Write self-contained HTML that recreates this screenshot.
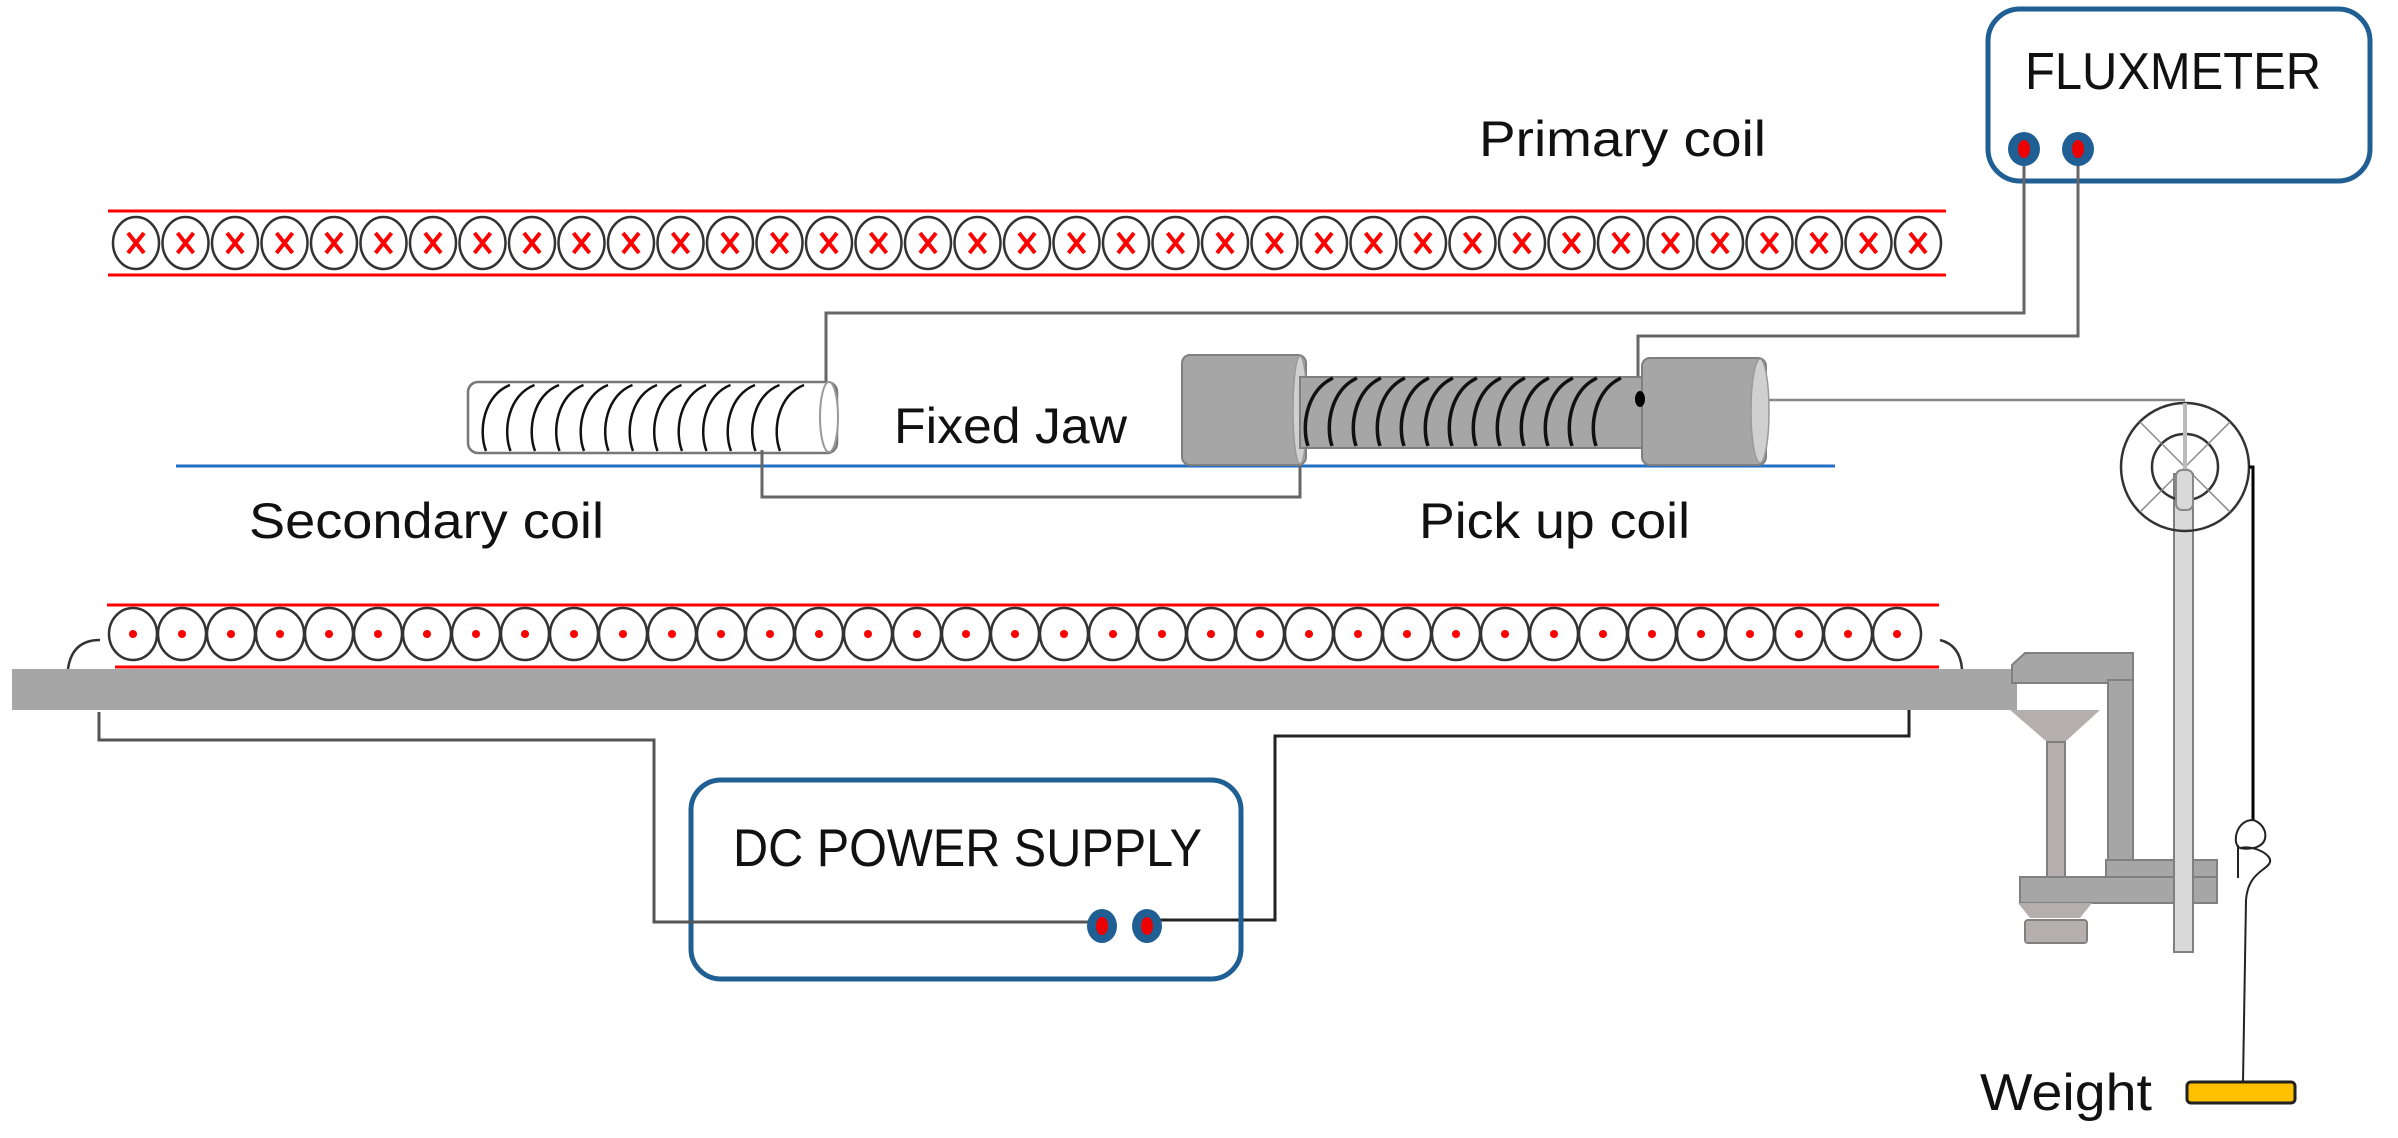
<!DOCTYPE html>
<html><head><meta charset="utf-8"><style>
html,body{margin:0;padding:0;background:#fff;}
svg{display:block;}
text{font-family:"Liberation Sans",sans-serif;fill:#111;}
</style></head><body>
<svg width="2398" height="1138" viewBox="0 0 2398 1138" xmlns="http://www.w3.org/2000/svg">
<!-- Fluxmeter -->
<rect x="1988" y="9" width="382" height="172" rx="32" fill="#fff" stroke="#1f5f93" stroke-width="5"/>
<text x="2025" y="89" font-size="52" textLength="296" lengthAdjust="spacingAndGlyphs">FLUXMETER</text>
<!-- wires fluxmeter -->
<polyline points="2024,150 2024,313 826,313 826,384" fill="none" stroke="#666" stroke-width="3"/>
<polyline points="2078,150 2078,336 1638,336 1638,378" fill="none" stroke="#666" stroke-width="3"/>
<ellipse cx="2024" cy="149" rx="16" ry="17" fill="#1f5f93"/><ellipse cx="2024" cy="149" rx="6" ry="9" fill="#e00"/>
<ellipse cx="2078" cy="149" rx="16" ry="17" fill="#1f5f93"/><ellipse cx="2078" cy="149" rx="6" ry="9" fill="#e00"/>

<text x="1479" y="156" font-size="50" textLength="287" lengthAdjust="spacingAndGlyphs">Primary coil</text>

<!-- top coil -->
<line x1="108" y1="211" x2="1946" y2="211" stroke="#f00" stroke-width="3"/>
<line x1="108" y1="275" x2="1946" y2="275" stroke="#f00" stroke-width="3"/>
<g id="topc" stroke-width="3"></g>

<!-- bottom coil -->
<line x1="107" y1="605" x2="1939" y2="605" stroke="#f00" stroke-width="3"/>
<line x1="115" y1="667" x2="1939" y2="667" stroke="#f00" stroke-width="3"/>
<g id="botc"></g>
<path d="M68 669 Q72 640 100 640" fill="none" stroke="#333" stroke-width="2.5"/>
<path d="M1940 640 Q1960 645 1962 669" fill="none" stroke="#333" stroke-width="2.5"/>

<!-- bar -->
<rect x="12" y="669" width="2005" height="41" fill="#a6a6a6"/>
<!-- clamp -->
<polygon points="2012,683 2012,665 2025,653 2133,653 2133,683" fill="#a6a6a6" stroke="#808080" stroke-width="2"/>
<rect x="2108" y="680" width="25" height="182" fill="#a6a6a6" stroke="#808080" stroke-width="2"/>
<polygon points="2010,710 2100,710 2065,742 2047,742" fill="#b5aeae"/>
<rect x="2047" y="742" width="18" height="135" fill="#b5aeae" stroke="#808080" stroke-width="2"/>
<rect x="2106" y="860" width="111" height="17" fill="#a6a6a6" stroke="#808080" stroke-width="2"/>
<rect x="2020" y="877" width="197" height="26" fill="#a6a6a6" stroke="#808080" stroke-width="2"/>
<polygon points="2018,903 2092,903 2080,918 2030,918" fill="#b5aeae"/>
<rect x="2025" y="920" width="62" height="23" rx="3" fill="#b5aeae" stroke="#808080" stroke-width="2"/>
<!-- stand rod -->
<rect x="2174" y="474" width="19" height="478" fill="#d9d9d9" stroke="#808080" stroke-width="2"/>
<!-- pulley -->
<circle cx="2185" cy="467" r="64" fill="none" stroke="#333" stroke-width="2.5"/>
<circle cx="2185" cy="467" r="33" fill="none" stroke="#333" stroke-width="2.5"/>
<line x1="2140" y1="422" x2="2230" y2="512" stroke="#888" stroke-width="1.5"/>
<line x1="2230" y1="422" x2="2140" y2="512" stroke="#888" stroke-width="1.5"/>
<line x1="2185" y1="403" x2="2185" y2="470" stroke="#bbb" stroke-width="4"/>
<rect x="2176" y="470" width="17" height="40" rx="6" fill="#d9d9d9" stroke="#888" stroke-width="2"/>
<!-- string -->
<polyline points="1640,400 2185,400" fill="none" stroke="#888" stroke-width="2.5"/>
<path d="M2249 467 L2253 467 L2253 820" fill="none" stroke="#000" stroke-width="3"/>
<path d="M2253 820 C2235 820 2232 845 2240 848 C2250 850 2268 848 2265 832 C2262 822 2253 820 2253 820 M2238 845 L2238 878 M2240 848 C2255 845 2272 855 2270 862 C2268 870 2248 872 2246 900 L2243 1082" fill="none" stroke="#222" stroke-width="2"/>
<!-- weight -->
<rect x="2187" y="1082" width="108" height="21" rx="4" fill="#ffc000" stroke="#222" stroke-width="3"/>
<text x="1980" y="1110" font-size="52" textLength="172" lengthAdjust="spacingAndGlyphs">Weight</text>

<!-- blue line -->
<line x1="176" y1="466" x2="1835" y2="466" stroke="#1f6fc5" stroke-width="3"/>

<!-- secondary coil -->
<rect x="468" y="382" width="369" height="71" rx="10" fill="#fff" stroke="#777" stroke-width="2.5"/>
<ellipse cx="829" cy="417" rx="9" ry="35" fill="#fff" stroke="#999" stroke-width="2"/>
<g id="secw" fill="none" stroke="#111" stroke-width="2.5"></g>
<polyline points="762,450 762,497 1300,497 1300,448" fill="none" stroke="#666" stroke-width="3"/>

<!-- pick up coil -->
<rect x="1182" y="355" width="124" height="110" rx="8" fill="#a6a6a6" stroke="#7f7f7f" stroke-width="2"/>
<ellipse cx="1300" cy="410" rx="7" ry="54" fill="#d0d0d0" stroke="#999" stroke-width="1.5"/>
<rect x="1300" y="377" width="342" height="71" fill="#a6a6a6" stroke="#7f7f7f" stroke-width="2"/>
<g id="pkw" fill="none" stroke="#111" stroke-width="3.5"></g>
<rect x="1642" y="358" width="124" height="107" rx="8" fill="#a6a6a6" stroke="#7f7f7f" stroke-width="2"/>
<ellipse cx="1760" cy="411" rx="9" ry="52" fill="#d0d0d0" stroke="#999" stroke-width="1.5"/>
<ellipse cx="1640" cy="399" rx="5" ry="8" fill="#000"/>

<text x="894" y="443" font-size="50" textLength="233" lengthAdjust="spacingAndGlyphs">Fixed Jaw</text>
<text x="249" y="538" font-size="50" textLength="355" lengthAdjust="spacingAndGlyphs">Secondary coil</text>
<text x="1419" y="538" font-size="50" textLength="271" lengthAdjust="spacingAndGlyphs">Pick up coil</text>

<!-- DC supply wires -->
<polyline points="99,712 99,740 654,740 654,922 1094,922" fill="none" stroke="#555" stroke-width="3"/>
<polyline points="1150,920 1275,920 1275,736 1909,736 1909,710" fill="none" stroke="#222" stroke-width="3"/>
<rect x="691" y="780" width="550" height="199" rx="30" fill="none" stroke="#1f5f93" stroke-width="5"/>
<polyline points="654,922 1094,922" stroke="#555" stroke-width="3"/>
<text x="733" y="866" font-size="53" textLength="469" lengthAdjust="spacingAndGlyphs">DC POWER SUPPLY</text>
<ellipse cx="1102" cy="926" rx="15" ry="17" fill="#1f5f93"/><ellipse cx="1102" cy="926" rx="6" ry="9" fill="#e00"/>
<ellipse cx="1147" cy="926" rx="15" ry="17" fill="#1f5f93"/><ellipse cx="1147" cy="926" rx="6" ry="9" fill="#e00"/>
</svg>
<script>
var NS="http://www.w3.org/2000/svg";
function el(p,t,a){var e=document.createElementNS(NS,t);for(var k in a)e.setAttribute(k,a[k]);p.appendChild(e);return e;}
var tg=document.getElementById("topc"),bg=document.getElementById("botc");
for(var i=0;i<37;i++){
 var cx=136+i*49.5;
 el(tg,"ellipse",{cx:cx,cy:243,rx:23,ry:26,fill:"#fff",stroke:"#333","stroke-width":2.5});
 el(tg,"path",{d:"M"+(cx-8)+" 233 L"+(cx+8)+" 253 M"+(cx+8)+" 233 L"+(cx-8)+" 253",stroke:"#f00","stroke-width":4,fill:"none"});
 var bx=133+i*49;
 el(bg,"ellipse",{cx:bx,cy:634,rx:24,ry:26,fill:"#fff",stroke:"#333","stroke-width":2.5});
 el(bg,"circle",{cx:bx,cy:634,r:4,fill:"#f00"});
}
var sw=document.getElementById("secw");
for(var j=0;j<13;j++){var x=482+j*24.5;
 el(sw,"path",{d:"M"+(x+28)+" 385 C"+(x+2)+" 395 "+(x-4)+" 430 "+(x+4)+" 451"});}
var pw=document.getElementById("pkw");
for(var j=0;j<13;j++){var x=1305+j*24;
 el(pw,"path",{d:"M"+(x+28)+" 378 C"+(x+2)+" 390 "+(x-4)+" 425 "+(x+3)+" 446"});}
</script>
</body></html>
